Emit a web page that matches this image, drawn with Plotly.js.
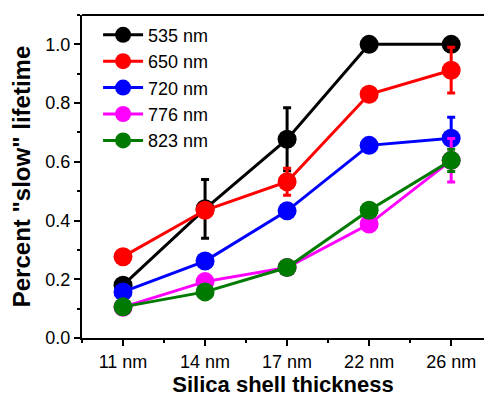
<!DOCTYPE html>
<html>
<head>
<meta charset="utf-8">
<script src="https://cdn.plot.ly/plotly-3.0.1.min.js"></script>
<style>html,body{margin:0;padding:0;background:#fff;}#chart{width:484px;height:397px;}</style>
</head>
<body>
<div id="chart"></div>
<script>
var categories = ["11 nm", "14 nm", "17 nm", "22 nm", "26 nm"];
var seriesNames = ["535 nm", "650 nm", "720 nm", "776 nm", "823 nm"];
var seriesColors = ["#000000", "#ff0000", "#0000ff", "#ff00ff", "#007a00"];
var v535 = [0.18, 0.44, 0.677, 1.0, 1.0];
var e535 = [0, 0.10, 0.107, 0, 0];
var v650 = [0.277, 0.435, 0.532, 0.83, 0.912];
var e650 = [0, 0, 0.046, 0, 0.078];
var v720 = [0.157, 0.262, 0.433, 0.656, 0.68];
var e720 = [0, 0, 0, 0, 0.072];
var v776 = [0.105, 0.192, 0.24, 0.388, 0.605];
var e776 = [0.01, 0, 0.015, 0, 0.074];
var v823 = [0.106, 0.157, 0.24, 0.435, 0.605];
var e823 = [0, 0, 0, 0.01, 0.038];

var values = [v535, v650, v720, v776, v823];
var errors = [e535, e650, e720, e776, e823];
var xs = categories.map(function(c, i){ return i; });

var traces = values.map(function(v, k){
  return {
    x: xs, y: v, name: seriesNames[k], type: 'scatter', mode: 'lines+markers',
    line: {color: seriesColors[k], width: 3},
    marker: {color: seriesColors[k], size: 19, symbol: 'circle'},
    error_y: {type: 'data', array: errors[k], visible: true, color: seriesColors[k], thickness: 3, width: 4}
  };
});

var layout = {
  width: 484, height: 397,
  margin: {l: 82, r: 0, t: 15, b: 59},
  paper_bgcolor: '#fff', plot_bgcolor: '#fff',
  font: {family: 'Liberation Sans, Arial, sans-serif', color: '#000', size: 18},
  showlegend: true,
  legend: {x: 0.04, y: 0.995, xanchor: 'left', yanchor: 'top', bgcolor: 'rgba(0,0,0,0)',
           font: {size: 18}, tracegroupgap: 0, itemwidth: 40},
  xaxis: {
    range: [-0.5, 4.4], tickvals: xs, ticktext: categories,
    showgrid: false, zeroline: false, showline: true, linecolor: '#000', linewidth: 2,
    ticks: 'outside', ticklen: 6, tickwidth: 2, tickcolor: '#000',
    minor: {dtick: 0.5, tick0: 0, ticks: 'outside', ticklen: 3, tickwidth: 2, tickcolor: '#000', showgrid: false},
    tickfont: {size: 18},
    title: {text: 'Silica shell thickness', font: {size: 22, family: 'Liberation Sans, Arial, sans-serif', weight: 'bold'}, standoff: 11}
  },
  yaxis: {
    range: [0, 1.1], dtick: 0.2, tick0: 0, tickformat: '.1f',
    showgrid: false, zeroline: false, showline: true, linecolor: '#000', linewidth: 2,
    ticks: 'outside', ticklen: 6, tickwidth: 2, tickcolor: '#000',
    minor: {dtick: 0.1, tick0: 0, ticks: 'outside', ticklen: 3, tickwidth: 2, tickcolor: '#000', showgrid: false},
    tickfont: {size: 18},
    title: {text: 'Percent "slow" lifetime', font: {size: 24, family: 'Liberation Sans, Arial, sans-serif', weight: 'bold'}, standoff: 8}
  },
  shapes: [{type: 'line', xref: 'paper', yref: 'paper', x0: 0, x1: 1, y0: 1, y1: 1, line: {color: '#000', width: 2}}]
};

Plotly.newPlot('chart', traces, layout, {displayModeBar: false, staticPlot: true});
</script>
</body>
</html>
